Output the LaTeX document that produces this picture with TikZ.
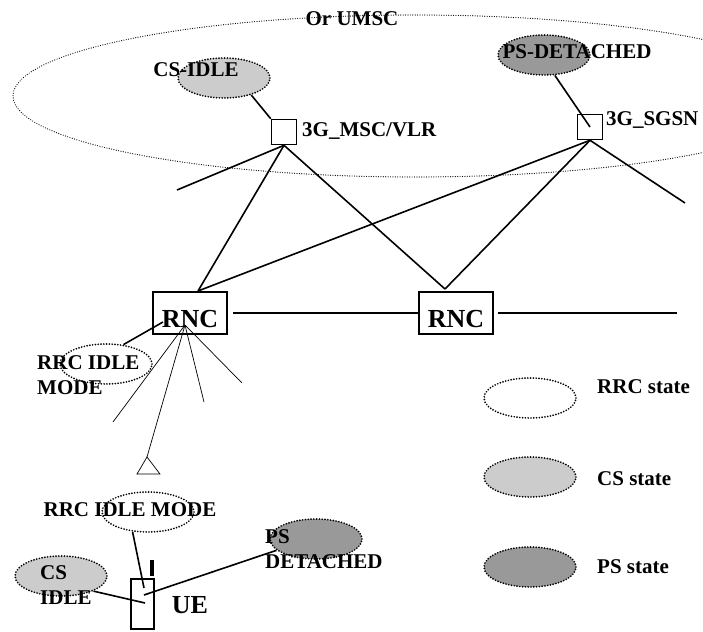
\documentclass[tikz,border=0pt]{standalone}
\usepackage{fontspec}
\setmainfont{Liberation Serif}
\usepackage{tikz}
\usetikzlibrary{shapes.geometric}
\definecolor{csgray}{HTML}{CCCCCC}
\definecolor{psgray}{HTML}{999999}

\begin{document}
\begin{tikzpicture}[x=1pt,y=-1pt,
    txt/.style={font=\fontsize{21}{25}\selectfont\bfseries, inner sep=0pt},
    bigtxt/.style={font=\fontsize{26}{30}\selectfont\bfseries, inner sep=0pt},
    state/.style={ellipse, draw, line width=1.9pt, line cap=round, dash pattern=on 0pt off 2.8pt,
        minimum width=92pt, minimum height=40pt, inner sep=0pt},
    umsc/.style={line width=1.2pt, line cap=round, dash pattern=on 0pt off 2.4pt},
    sq/.style={draw, line width=1.6pt, minimum size=25pt, inner sep=0pt},
    rncbox/.style={draw, line width=1.6pt, minimum width=74pt, minimum height=42pt, bigtxt,
        text height=29pt, text depth=0pt},
    wire/.style={line width=1.6pt},
    fanline/.style={line width=0.7pt}]
                \useasboundingbox (0,0) rectangle (703,631);
                \begin{scope}
                    \clip (0,0) rectangle (703,631);
                    \draw[umsc] (415,96) ellipse [x radius=402pt, y radius=81pt];
                \end{scope}
                \node[txt] (umsct) at (352,19) {Or UMSC};
                \node[state, fill=csgray] (csidle) at (224,78) {};
                \node[txt] (csidlet) at (196,70) {CS-IDLE};
                \node[sq] (msc) at (284,132) {};
                \node[txt, anchor=west] (msct) at (302,131) {3G\_MSC/VLR};
                \node[state, fill=psgray] (psdet) at (544,55) {};
                \node[txt] (psdett) at (577,52) {PS-DETACHED};
                \node[sq] (sgsn) at (590,127) {};
                \node[txt, anchor=west] (sgsnt) at (606,120) {3G\_SGSN};
                \draw[wire] (csidle.-32) -- (msc.north west);
                \draw[wire] (psdet.-62) -- (sgsn.center);
                \node[rncbox] (rnc1) at (190,313) {RNC};
                \node[rncbox] (rnc2) at (456,313) {RNC};
                \coordinate (mscend) at (177,190);
                \coordinate (sgsnend) at (685,203);
                \coordinate (r1top) at (198,291);
                \coordinate (r2top) at (445,289);
                \coordinate (rncend) at (677,313);
                \foreach \p in {mscend,r1top,r2top}
                    \draw[wire] (msc.south) -- (\p);
                \foreach \p in {r1top,r2top,sgsnend}
                    \draw[wire] (sgsn.south) -- (\p);
                \draw[wire, shorten <=5pt] (rnc1.east) -- (rnc2.west);
                \draw[wire, shorten <=4pt] (rnc2.east) -- (rncend);
                \node[state] (rrcrnc) at (106,364) {};
                \node[txt, anchor=west, align=left] (rrcrnct) at (37,375) {RRC IDLE\\MODE};
                \coordinate (r1left) at (163,322);
                \draw[wire] (rrcrnc.48) -- (r1left);
                \coordinate (fan) at (185,325);
                \coordinate (f1) at (113,422);
                \coordinate (ant) at (147,457);
                \coordinate (f3) at (204,402);
                \coordinate (f4) at (242,383);
                \foreach \p in {f1,ant,f3,f4}
                    \draw[fanline] (fan) -- (\p);
                \draw[fanline] (ant) -- ++(-10,17) -- ++(23,0) -- cycle;
                \node[state] (rrcue) at (148,512) {};
                \node[txt] (rrcuet) at (130,510) {RRC IDLE MODE};
                \node[state, fill=csgray] (csue) at (61,576) {};
                \node[txt, anchor=west, align=left] (csuet) at (40,585) {CS\\IDLE};
                \node[state, fill=psgray] (psue) at (316,539) {};
                \node[txt, anchor=west, align=left] (psuet) at (265,549) {PS\\DETACHED};
                \node[draw, line width=1.6pt, minimum width=23pt, minimum height=50pt, inner sep=0pt] (ue) at (142.5,604) {};
                \node[bigtxt] (uet) at (190,605) {UE};
                \coordinate (uein1) at (144,588);
                \coordinate (uein2) at (145,603);
                \coordinate (uein3) at (144,595);
                \draw[wire] (rrcue.232) -- (uein1);
                \draw[wire] (csue.-25) -- (uein2);
                \draw[wire] (psue.196) -- (uein3);
                \coordinate (antbot) at (152,576);
                \draw[line width=3.5pt] (antbot) -- ++(0,-16);
                \node[state] (lrrc) at (530,398) {};
                \node[txt, anchor=west] (lrrct) at (597,387) {RRC state};
                \node[state, fill=csgray] (lcs) at (530,477) {};
                \node[txt, anchor=west] (lcst) at (597,479) {CS state};
                \node[state, fill=psgray] (lps) at (530,567) {};
                \node[txt, anchor=west] (lpst) at (597,567) {PS state};
            \end{tikzpicture}
\end{document}
